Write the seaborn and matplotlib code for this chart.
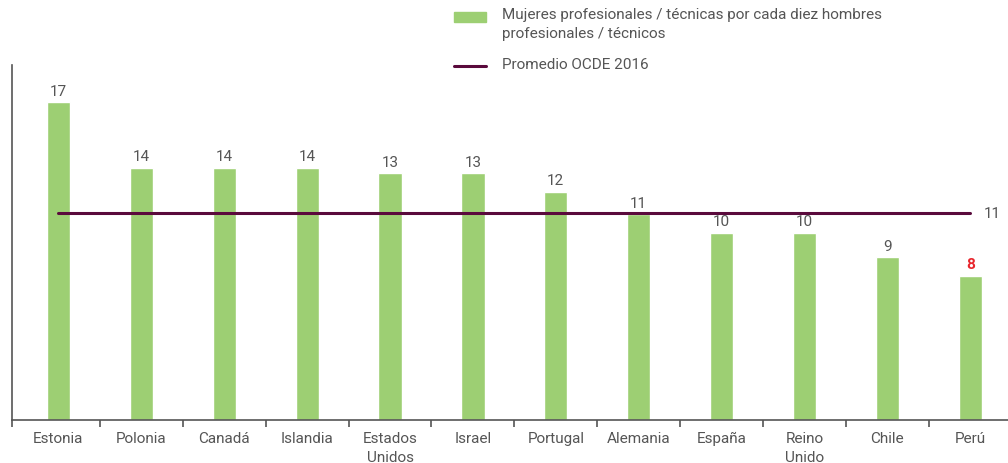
import matplotlib.pyplot as plt
import pandas as pd
import seaborn as sns

# Data
paises = ['Estonia', 'Polonia', 'Canadá', 'Islandia', 'Estados\nUnidos', 'Israel',
          'Portugal', 'Alemania', 'España', 'Reino\nUnido', 'Chile', 'Perú']
valores = [17.0, 13.5, 13.5, 13.5, 13.2, 13.2, 12.2, 11.0, 10.0, 10.0, 8.7, 7.7]
etiquetas = ['17', '14', '14', '14', '13', '13', '12', '11', '10', '10', '9', '8']
promedio_ocde = 11.1
promedio_label = '11'

df = pd.DataFrame({'pais': paises, 'valor': valores})

sns.set_style('white')
plt.rcParams['font.family'] = ['Roboto', 'DejaVu Sans']

verde = '#9dcf73'
granate = '#5a0a3c'
gris = '#555555'

fig = plt.figure(figsize=(10.08, 4.64), dpi=100)
ax = fig.add_axes([12 / 1008, 43 / 464, 996 / 1008, 355 / 464])

sns.barplot(data=df, x='pais', y='valor', color=verde, width=0.28,
            saturation=1, ax=ax)

# OECD average line across bar centers
ax.plot([0, len(paises) - 1], [promedio_ocde, promedio_ocde], color=granate, lw=2.2)
ax.text(len(paises) - 1 + 0.16, promedio_ocde, promedio_label, va='center', ha='left',
        fontsize=11, color=gris)

# value labels
for i, (v, t) in enumerate(zip(valores, etiquetas)):
    es_peru = paises[i] == 'Perú'
    ax.text(i, v + 0.25, t, ha='center', va='bottom', fontsize=11,
            color='#e8262d' if es_peru else gris,
            fontweight='bold' if es_peru else 'normal')

ax.set_xlim(-0.56, 11.455)
ax.set_ylim(0, 19)
ax.set_xlabel('')
ax.set_ylabel('')
ax.set_yticks([])

for s in ['top', 'right']:
    ax.spines[s].set_visible(False)
for s in ['left', 'bottom']:
    ax.spines[s].set_color(gris)
    ax.spines[s].set_linewidth(1.2)

ax.tick_params(axis='x', which='major', length=0, labelsize=11, labelcolor=gris, pad=8)
for lbl in ax.get_xticklabels():
    lbl.set_linespacing(1.4)
ax.set_xticks([-0.56] + [k + 0.5 for k in range(len(paises) - 1)], minor=True)
ax.tick_params(axis='x', which='minor', bottom=True, length=5, width=1.2,
               color=gris, direction='out')

# legend drawn by hand in figure pixels
fig.patches.append(plt.Rectangle((454 / 1008, 1 - 23 / 464), 32 / 1008, 10 / 464,
                                 transform=fig.transFigure, color=verde))
fig.text(502 / 1008, 1 - 8 / 464,
         'Mujeres profesionales / técnicas por cada diez hombres\nprofesionales / técnicos',
         ha='left', va='top', fontsize=11, color=gris, linespacing=1.45)
fig.lines.append(plt.Line2D([454 / 1008, 486 / 1008], [1 - 67 / 464, 1 - 67 / 464],
                            transform=fig.transFigure, color=granate, lw=2.2))
fig.text(502 / 1008, 1 - 65 / 464, 'Promedio OCDE 2016', ha='left', va='center',
         fontsize=11, color=gris)

plt.savefig('out.png', dpi=100)
